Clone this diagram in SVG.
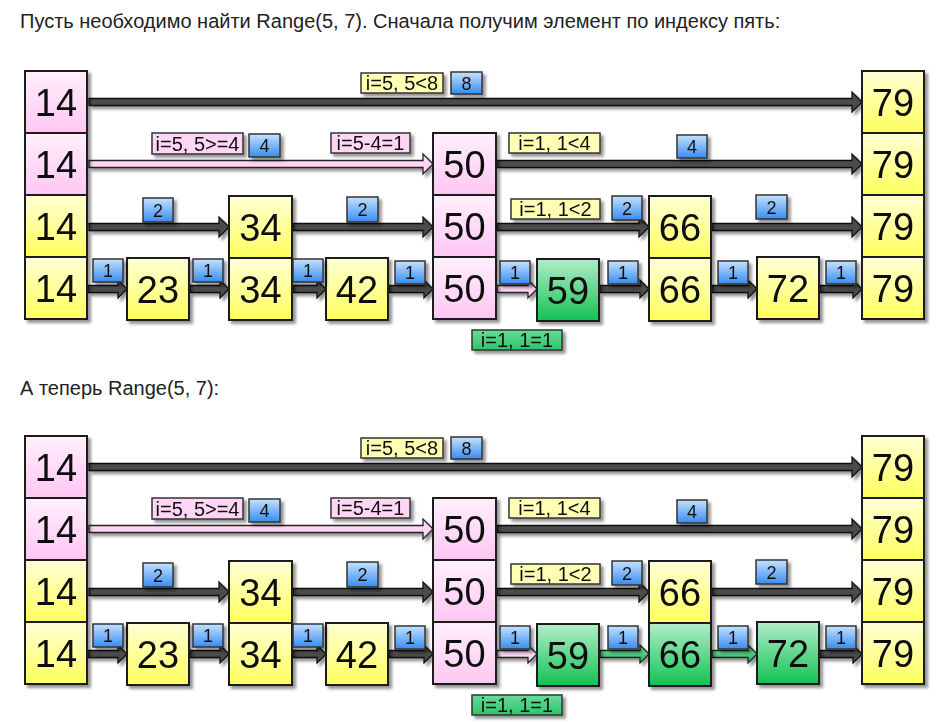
<svg xmlns="http://www.w3.org/2000/svg" width="941" height="723" viewBox="0 0 941 723">
<defs>
<linearGradient id="gPink" x1="0" y1="0" x2="0" y2="1"><stop offset="0" stop-color="#fff0fc"/><stop offset="1" stop-color="#ffc6f3"/></linearGradient>
<linearGradient id="gYel" x1="0" y1="0" x2="0" y2="1"><stop offset="0" stop-color="#ffffd6"/><stop offset="1" stop-color="#ffff5e"/></linearGradient>
<linearGradient id="gGrn" x1="0" y1="0" x2="0" y2="1"><stop offset="0" stop-color="#b2edca"/><stop offset="1" stop-color="#12c252"/></linearGradient>
<linearGradient id="gBlu" x1="0" y1="0" x2="0" y2="1"><stop offset="0" stop-color="#c4e2ff"/><stop offset="1" stop-color="#388cf0"/></linearGradient>
<linearGradient id="gLg" x1="0" y1="0" x2="0" y2="1"><stop offset="0" stop-color="#6adc98"/><stop offset="1" stop-color="#2cc46a"/></linearGradient>
<linearGradient id="gAg" x1="0" y1="0" x2="0" y2="1"><stop offset="0" stop-color="#7ae0a4"/><stop offset="1" stop-color="#22b85e"/></linearGradient>
<filter id="sh" x="-10%" y="-10%" width="130%" height="140%"><feDropShadow dx="3" dy="3" stdDeviation="1.8" flood-color="#000" flood-opacity="0.42"/></filter>
</defs>
<style>
.t{font-family:"Liberation Sans",Arial,sans-serif;font-size:20px;fill:#222}
.pk{fill:url(#gPink);stroke:#1e1e1e;stroke-width:2}
.yl{fill:url(#gYel);stroke:#1e1e1e;stroke-width:2}
.gr{fill:url(#gGrn);stroke:#1e1e1e;stroke-width:2}
.n{font-family:"Liberation Sans",Arial,sans-serif;font-size:38px;text-anchor:middle;fill:#111}
.ad{fill:#4c4c4c;stroke:#111;stroke-width:1.3;stroke-linejoin:miter}
.ap{fill:#ffd4f6;stroke:#222;stroke-width:1.3}
.ag{fill:url(#gAg);stroke:#222;stroke-width:1.3}
.lb{fill:url(#gBlu);stroke:#333;stroke-width:1.5}
.ly{fill:#ffffb4;stroke:#333;stroke-width:1.5}
.lp{fill:#ffd6f6;stroke:#333;stroke-width:1.5}
.lg{fill:url(#gLg);stroke:#333;stroke-width:1.5}
.lt{font-family:"Liberation Sans",Arial,sans-serif;font-size:20px;text-anchor:middle;fill:#111}
.ld{font-family:"Liberation Sans",Arial,sans-serif;font-size:18px;text-anchor:middle;fill:#111}
</style>
<rect width="941" height="723" fill="#fff"/>
<text class="t" x="20" y="28">Пусть необходимо найти Range(5, 7). Сначала получим элемент по индексу пять:</text>
<text class="t" x="20" y="395">А теперь Range(5, 7):</text>

<!-- ===== Diagram 1 ===== -->
<g id="connectors1" filter="url(#sh)">
<polygon class="ad" points="89,98.5 852,98.5 852,92 862,102 852,112 852,105.5 89,105.5"/>
<polygon class="ap" points="89,160.5 423,160.5 423,154 433,164 423,174 423,167.5 89,167.5"/>
<polygon class="ad" points="497,160.5 852,160.5 852,154 862,164 852,174 852,167.5 497,167.5"/>
<polygon class="ad" points="89,223.5 219,223.5 219,217 229,227 219,237 219,230.5 89,230.5"/>
<polygon class="ad" points="293,223.5 423,223.5 423,217 433,227 423,237 423,230.5 293,230.5"/>
<polygon class="ad" points="497,223.5 639,223.5 639,217 649,227 639,237 639,230.5 497,230.5"/>
<polygon class="ad" points="712,223.5 852,223.5 852,217 862,227 852,237 852,230.5 712,230.5"/>
<polygon class="ad" points="88,285.5 118,285.5 118,280 127,289 118,298 118,292.5 88,292.5"/>
<polygon class="ad" points="190,285.5 220,285.5 220,280 229,289 220,298 220,292.5 190,292.5"/>
<polygon class="ad" points="293,285.5 317,285.5 317,280 326,289 317,298 317,292.5 293,292.5"/>
<polygon class="ad" points="389,285.5 424,285.5 424,280 433,289 424,298 424,292.5 389,292.5"/>
<polygon class="ap" points="497,285.5 528,285.5 528,280 537,289 528,298 528,292.5 497,292.5"/>
<polygon class="ad" points="600,285.5 640,285.5 640,280 649,289 640,298 640,292.5 600,292.5"/>
<polygon class="ad" points="712,285.5 748,285.5 748,280 757,289 748,298 748,292.5 712,292.5"/>
<polygon class="ad" points="820,285.5 853,285.5 853,280 862,289 853,298 853,292.5 820,292.5"/>
</g>

<g filter="url(#sh)">
<g id="d1-n14-l4"><rect class="pk" x="25" y="71" width="62" height="62"/><text class="n" x="56" y="115.5">14</text></g>
<g id="d1-n14-l3"><rect class="pk" x="25" y="133" width="62" height="62"/><text class="n" x="56" y="177.5">14</text></g>
<g id="d1-n14-l2"><rect class="yl" x="25" y="195" width="62" height="62"/><text class="n" x="56" y="239.5">14</text></g>
<g id="d1-n14-l1"><rect class="yl" x="25" y="257" width="62" height="62"/><text class="n" x="56" y="301.5">14</text></g>
<g id="d1-n23"><rect class="yl" x="127" y="258" width="62" height="62"/><text class="n" x="158" y="302.5">23</text></g>
<g id="d1-n34-l2"><rect class="yl" x="229" y="196" width="63" height="62"/><text class="n" x="260.5" y="240.5">34</text></g>
<g id="d1-n34-l1"><rect class="yl" x="229" y="258" width="63" height="62"/><text class="n" x="260.5" y="302.5">34</text></g>
<g id="d1-n42"><rect class="yl" x="326" y="258" width="62" height="62"/><text class="n" x="357" y="302.5">42</text></g>
<g id="d1-n50-l3"><rect class="pk" x="433" y="133" width="63" height="62"/><text class="n" x="464.5" y="177.5">50</text></g>
<g id="d1-n50-l2"><rect class="pk" x="433" y="195" width="63" height="62"/><text class="n" x="464.5" y="239.5">50</text></g>
<g id="d1-n50-l1"><rect class="pk" x="433" y="257" width="63" height="62"/><text class="n" x="464.5" y="301.5">50</text></g>
<g id="d1-n59"><rect class="gr" x="537" y="259" width="62" height="62"/><text class="n" x="568" y="303.5">59</text></g>
<g id="d1-n66-l2"><rect class="yl" x="649" y="196" width="62" height="62"/><text class="n" x="680" y="240.5">66</text></g>
<g id="d1-n66-l1"><rect class="yl" x="649" y="258" width="62" height="63"/><text class="n" x="680" y="302.5">66</text></g>
<g id="d1-n72"><rect class="yl" x="757" y="257" width="62" height="62"/><text class="n" x="788" y="301.5">72</text></g>
<g id="d1-n79-l4"><rect class="yl" x="862" y="71" width="62" height="62"/><text class="n" x="893" y="115.5">79</text></g>
<g id="d1-n79-l3"><rect class="yl" x="862" y="133" width="62" height="62"/><text class="n" x="893" y="177.5">79</text></g>
<g id="d1-n79-l2"><rect class="yl" x="862" y="195" width="62" height="62"/><text class="n" x="893" y="239.5">79</text></g>
<g id="d1-n79-l1"><rect class="yl" x="862" y="257" width="62" height="62"/><text class="n" x="893" y="301.5">79</text></g>
</g>

<g id="labels1" filter="url(#sh)">
<rect class="ly" x="361" y="73" width="82" height="20"/><text class="lt" x="402" y="90">i=5, 5&lt;8</text>
<rect class="lb" x="451" y="72" width="31" height="22"/><text class="ld" x="466.5" y="89.5">8</text>
<rect class="lp" x="152" y="133" width="91" height="21"/><text class="lt" x="197.5" y="150.5">i=5, 5&gt;=4</text>
<rect class="lb" x="249" y="134" width="31" height="23"/><text class="ld" x="264.5" y="152">4</text>
<rect class="lp" x="331" y="133" width="79" height="20"/><text class="lt" x="370.5" y="150">i=5-4=1</text>
<rect class="ly" x="509" y="133" width="91" height="20"/><text class="lt" x="554.5" y="150">i=1, 1&lt;4</text>
<rect class="lb" x="677" y="135" width="30" height="23"/><text class="ld" x="692" y="153">4</text>
<rect class="lb" x="143" y="198" width="30" height="24"/><text class="ld" x="158" y="216.5">2</text>
<rect class="lb" x="347" y="197" width="31" height="25"/><text class="ld" x="362.5" y="216">2</text>
<rect class="ly" x="511" y="199" width="89" height="20"/><text class="lt" x="555.5" y="216">i=1, 1&lt;2</text>
<rect class="lb" x="612" y="196" width="30" height="24"/><text class="ld" x="627" y="214.5">2</text>
<rect class="lb" x="756" y="195" width="31" height="24"/><text class="ld" x="771.5" y="213.5">2</text>
<rect class="lb" x="93" y="259" width="30" height="23"/><text class="ld" x="108" y="277">1</text>
<rect class="lb" x="193" y="259" width="30" height="23"/><text class="ld" x="208" y="277">1</text>
<rect class="lb" x="293" y="259" width="30" height="23"/><text class="ld" x="308" y="277">1</text>
<rect class="lb" x="395" y="261" width="30" height="23"/><text class="ld" x="410" y="279">1</text>
<rect class="lb" x="500" y="261" width="30" height="23"/><text class="ld" x="515" y="279">1</text>
<rect class="lb" x="608" y="261" width="30" height="23"/><text class="ld" x="623" y="279">1</text>
<rect class="lb" x="718" y="261" width="30" height="23"/><text class="ld" x="733" y="279">1</text>
<rect class="lb" x="826" y="261" width="30" height="23"/><text class="ld" x="841" y="279">1</text>
<rect class="lg" x="472" y="330" width="90" height="20"/><text class="lt" x="517" y="347">i=1, 1=1</text>
</g>

<!-- ===== Diagram 2 ===== -->
<g transform="translate(0,365)">
<g id="connectors2" filter="url(#sh)">
<polygon class="ad" points="89,98.5 852,98.5 852,92 862,102 852,112 852,105.5 89,105.5"/>
<polygon class="ap" points="89,160.5 423,160.5 423,154 433,164 423,174 423,167.5 89,167.5"/>
<polygon class="ad" points="497,160.5 852,160.5 852,154 862,164 852,174 852,167.5 497,167.5"/>
<polygon class="ad" points="89,223.5 219,223.5 219,217 229,227 219,237 219,230.5 89,230.5"/>
<polygon class="ad" points="293,223.5 423,223.5 423,217 433,227 423,237 423,230.5 293,230.5"/>
<polygon class="ad" points="497,223.5 639,223.5 639,217 649,227 639,237 639,230.5 497,230.5"/>
<polygon class="ad" points="712,223.5 852,223.5 852,217 862,227 852,237 852,230.5 712,230.5"/>
<polygon class="ad" points="88,285.5 118,285.5 118,280 127,289 118,298 118,292.5 88,292.5"/>
<polygon class="ad" points="190,285.5 220,285.5 220,280 229,289 220,298 220,292.5 190,292.5"/>
<polygon class="ad" points="293,285.5 317,285.5 317,280 326,289 317,298 317,292.5 293,292.5"/>
<polygon class="ad" points="389,285.5 424,285.5 424,280 433,289 424,298 424,292.5 389,292.5"/>
<polygon class="ap" points="497,285.5 528,285.5 528,280 537,289 528,298 528,292.5 497,292.5"/>
<polygon class="ag" points="600,285.5 640,285.5 640,280 649,289 640,298 640,292.5 600,292.5"/>
<polygon class="ag" points="712,285.5 748,285.5 748,280 757,289 748,298 748,292.5 712,292.5"/>
<polygon class="ad" points="820,285.5 853,285.5 853,280 862,289 853,298 853,292.5 820,292.5"/>
</g>

<g filter="url(#sh)">
<g id="d2-n14-l4"><rect class="pk" x="25" y="71" width="62" height="62"/><text class="n" x="56" y="115.5">14</text></g>
<g id="d2-n14-l3"><rect class="pk" x="25" y="133" width="62" height="62"/><text class="n" x="56" y="177.5">14</text></g>
<g id="d2-n14-l2"><rect class="yl" x="25" y="195" width="62" height="62"/><text class="n" x="56" y="239.5">14</text></g>
<g id="d2-n14-l1"><rect class="yl" x="25" y="257" width="62" height="62"/><text class="n" x="56" y="301.5">14</text></g>
<g id="d2-n23"><rect class="yl" x="127" y="258" width="62" height="62"/><text class="n" x="158" y="302.5">23</text></g>
<g id="d2-n34-l2"><rect class="yl" x="229" y="196" width="63" height="62"/><text class="n" x="260.5" y="240.5">34</text></g>
<g id="d2-n34-l1"><rect class="yl" x="229" y="258" width="63" height="62"/><text class="n" x="260.5" y="302.5">34</text></g>
<g id="d2-n42"><rect class="yl" x="326" y="258" width="62" height="62"/><text class="n" x="357" y="302.5">42</text></g>
<g id="d2-n50-l3"><rect class="pk" x="433" y="133" width="63" height="62"/><text class="n" x="464.5" y="177.5">50</text></g>
<g id="d2-n50-l2"><rect class="pk" x="433" y="195" width="63" height="62"/><text class="n" x="464.5" y="239.5">50</text></g>
<g id="d2-n50-l1"><rect class="pk" x="433" y="257" width="63" height="62"/><text class="n" x="464.5" y="301.5">50</text></g>
<g id="d2-n59"><rect class="gr" x="537" y="259" width="62" height="62"/><text class="n" x="568" y="303.5">59</text></g>
<g id="d2-n66-l2"><rect class="yl" x="649" y="196" width="62" height="62"/><text class="n" x="680" y="240.5">66</text></g>
<g id="d2-n66-l1"><rect class="gr" x="649" y="258" width="62" height="63"/><text class="n" x="680" y="302.5">66</text></g>
<g id="d2-n72"><rect class="gr" x="757" y="257" width="62" height="62"/><text class="n" x="788" y="301.5">72</text></g>
<g id="d2-n79-l4"><rect class="yl" x="862" y="71" width="62" height="62"/><text class="n" x="893" y="115.5">79</text></g>
<g id="d2-n79-l3"><rect class="yl" x="862" y="133" width="62" height="62"/><text class="n" x="893" y="177.5">79</text></g>
<g id="d2-n79-l2"><rect class="yl" x="862" y="195" width="62" height="62"/><text class="n" x="893" y="239.5">79</text></g>
<g id="d2-n79-l1"><rect class="yl" x="862" y="257" width="62" height="62"/><text class="n" x="893" y="301.5">79</text></g>
</g>

<g id="labels2" filter="url(#sh)">
<rect class="ly" x="361" y="73" width="82" height="20"/><text class="lt" x="402" y="90">i=5, 5&lt;8</text>
<rect class="lb" x="451" y="72" width="31" height="22"/><text class="ld" x="466.5" y="89.5">8</text>
<rect class="lp" x="152" y="133" width="91" height="21"/><text class="lt" x="197.5" y="150.5">i=5, 5&gt;=4</text>
<rect class="lb" x="249" y="134" width="31" height="23"/><text class="ld" x="264.5" y="152">4</text>
<rect class="lp" x="331" y="133" width="79" height="20"/><text class="lt" x="370.5" y="150">i=5-4=1</text>
<rect class="ly" x="509" y="133" width="91" height="20"/><text class="lt" x="554.5" y="150">i=1, 1&lt;4</text>
<rect class="lb" x="677" y="135" width="30" height="23"/><text class="ld" x="692" y="153">4</text>
<rect class="lb" x="143" y="198" width="30" height="24"/><text class="ld" x="158" y="216.5">2</text>
<rect class="lb" x="347" y="197" width="31" height="25"/><text class="ld" x="362.5" y="216">2</text>
<rect class="ly" x="511" y="199" width="89" height="20"/><text class="lt" x="555.5" y="216">i=1, 1&lt;2</text>
<rect class="lb" x="612" y="196" width="30" height="24"/><text class="ld" x="627" y="214.5">2</text>
<rect class="lb" x="756" y="195" width="31" height="24"/><text class="ld" x="771.5" y="213.5">2</text>
<rect class="lb" x="93" y="259" width="30" height="23"/><text class="ld" x="108" y="277">1</text>
<rect class="lb" x="193" y="259" width="30" height="23"/><text class="ld" x="208" y="277">1</text>
<rect class="lb" x="293" y="259" width="30" height="23"/><text class="ld" x="308" y="277">1</text>
<rect class="lb" x="395" y="261" width="30" height="23"/><text class="ld" x="410" y="279">1</text>
<rect class="lb" x="500" y="261" width="30" height="23"/><text class="ld" x="515" y="279">1</text>
<rect class="lb" x="608" y="261" width="30" height="23"/><text class="ld" x="623" y="279">1</text>
<rect class="lb" x="718" y="261" width="30" height="23"/><text class="ld" x="733" y="279">1</text>
<rect class="lb" x="826" y="261" width="30" height="23"/><text class="ld" x="841" y="279">1</text>
<rect class="lg" x="472" y="330" width="90" height="20"/><text class="lt" x="517" y="347">i=1, 1=1</text>
</g>
</g>
</svg>
